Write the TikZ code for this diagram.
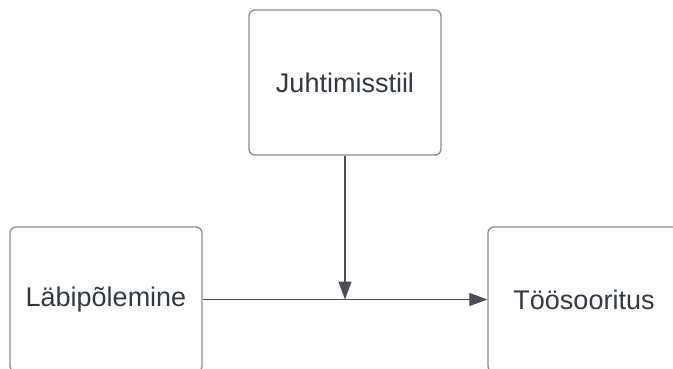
\documentclass[tikz,border=0pt]{standalone}
\usepackage{fontspec}
\setmainfont{Liberation Sans}
\usetikzlibrary{arrows.meta}
\definecolor{boxline}{HTML}{8A8C90}
\definecolor{txt}{HTML}{343A42}
\definecolor{conn}{HTML}{4A4F57}
\tikzset{
  box/.style={draw=boxline, line width=1.3pt, rounded corners=6pt, minimum width=192pt, minimum height=145pt, inner sep=0pt, text=txt, font=\fontsize{27}{32}\selectfont},
  conn/.style={draw=conn, line width=1.2pt, -{Triangle[length=18pt,width=13pt]}}
}
\begin{document}
\begin{tikzpicture}[x=1pt,y=-1pt]
\useasboundingbox (0,0) rectangle (673,368);
\clip (0,0) rectangle (673,368);
\fill[white] (0,0) rectangle (673,368);
\node[box] (top) at (345,82.5) {Juhtimisstiil};
\node[box] (left) at (106,299.5) {Läbipõlemine};
\node[box] (right) at (584,299.5) {Töösooritus};
\coordinate (m) at (top.south |- left.east);
\draw[conn] (left.east) -- (right.west);
\draw[conn] (top.south) -- (m);
\end{tikzpicture}
\end{document}
